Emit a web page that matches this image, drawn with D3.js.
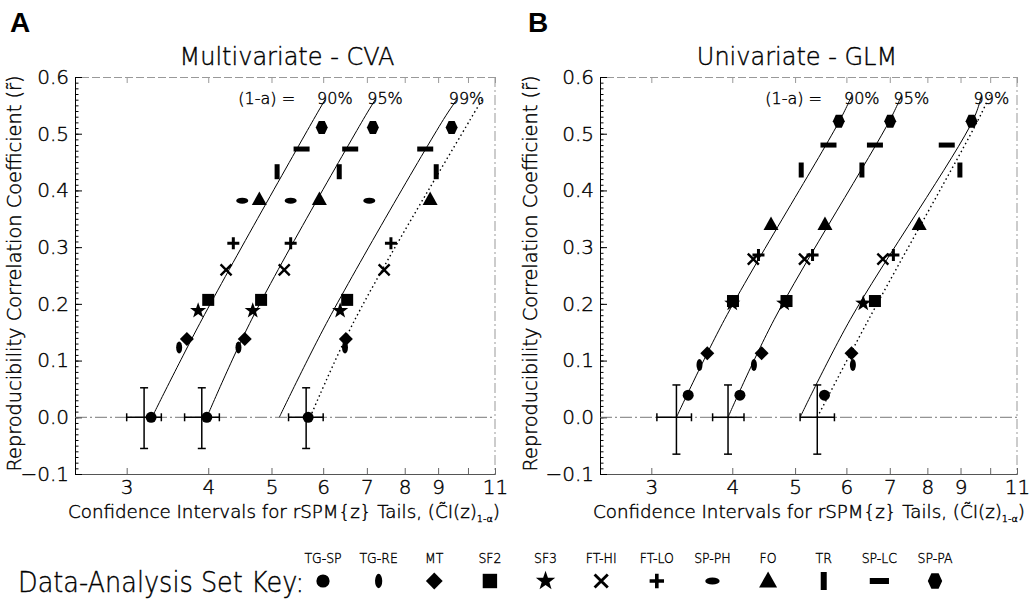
<!DOCTYPE html>
<html>
<head>
<meta charset="utf-8">
<title>Reproducibility vs CI tails</title>
<script src="https://d3js.org/d3.v7.min.js"></script>
<style>
  body { margin: 0; background: #fff; }
  svg text { font-family: "DejaVu Sans", sans-serif; font-weight: 200; fill: #000; stroke: #000; stroke-width: 0.4px; }
</style>
</head>
<body>
<div id="chart"></div>
<script>
// data-analysis sets (legend order) and their marker types
var setNames   = ["TG-SP", "TG-RE", "MT", "SF2", "SF3", "FT-HI", "FT-LO", "SP-PH", "FO", "TR", "SP-LC", "SP-PA"];
var setSymbols = ["circle", "vellipse", "diamond", "square", "star", "x", "plus", "hellipse", "triangle", "vbar", "hbar", "hexagon"];

// axis ticks
var xTickValues = [3, 4, 5, 6, 7, 8, 9, 10, 11];
var xTickLabels = ["3", "4", "5", "6", "7", "8", "9", "", "11"];
var yTickValues = [-0.1, 0.0, 0.1, 0.2, 0.3, 0.4, 0.5, 0.6];
var levelLabels = ["90%", "95%", "99%"];

// A: multivariate CVA  -- r per set, CI(z) at 90 / 95 / 99 %
var cvaR  = [0.000, 0.123, 0.138, 0.207, 0.188, 0.260, 0.307, 0.382, 0.384, 0.433, 0.473, 0.511];
var cva90 = [3.27, 3.61, 3.71, 4.00, 3.86, 4.26, 4.37, 4.51, 4.79, 5.10, 5.56, 5.97];
var cva95 = [3.98, 4.45, 4.55, 4.82, 4.68, 5.23, 5.35, 5.35, 5.92, 6.35, 6.60, 7.15];
var cva99 = [5.69, 6.48, 6.50, 6.53, 6.37, 7.44, 7.62, 7.06, 8.75, 8.94, 8.60, 9.44];

// B: univariate GLM (no SP-PH point visible)
var glmR  = [0.039, 0.092, 0.113, 0.205, 0.201, 0.279, 0.286, null, 0.340, 0.436, 0.480, 0.522];
var glm90 = [3.42, 3.56, 3.66, 4.01, 4.00, 4.31, 4.39, null, 4.59, 5.11, 5.63, 5.84];
var glm95 = [4.11, 4.32, 4.44, 4.85, 4.81, 5.17, 5.32, null, 5.56, 6.34, 6.64, 7.01];
var glm99 = [5.55, 6.14, 6.11, 6.64, 6.37, 6.83, 7.09, null, 7.77, 8.98, 8.57, 9.36];

// error crosses at r = 0
var cvaErrX  = [3.19, 3.91, 5.65];
var cvaErrLo = [3.00, 3.68, 5.31];
var cvaErrHi = [3.39, 4.16, 6.00];
var cvaErrR  = [-0.055, 0.052];
var glmErrX  = [3.28, 3.94, 5.41];
var glmErrLo = [3.06, 3.73, 5.09];
var glmErrHi = [3.46, 4.17, 5.75];
var glmErrR  = [-0.065, 0.057];

// threshold curves (r, CI)
var cvaLineR   = [0, 0.172, 0.525, 0.560];
var cvaLine90  = [3.28, 3.91, 5.80, 6.04];
var cvaLine95  = [3.98, 4.66, 6.91, 7.21];
var cvaLine99  = [5.14, 6.11, 9.17, 9.61];
var cvaLineDot = [5.73, 6.71, 10.08, 10.51];
var glmLineR   = [0, 0.172, 0.525, 0.568];
var glmLine90  = [3.28, 3.89, 5.87, 6.12];
var glmLine95  = [3.94, 4.64, 7.01, 7.30];
var glmLine99  = [5.09, 6.08, 9.42, 9.70];
var glmLineDot = [5.41, 6.49, 9.59, 9.99];

var W = 1031, H = 611;
var top_ = 77, bottom = 474;

var svg = d3.select("#chart").append("svg")
    .attr("width", W)
    .attr("height", H);

// marker shapes, drawn centred on 0,0
function drawSymbol(sel, type, cx, cy, k) {
    var g = sel.append("g")
        .attr("transform", "translate(" + cx + "," + cy + ") scale(" + k + ")")
        .attr("fill", "#000");
    if (type === "circle") g.append("circle").attr("r", 5.5);
    else if (type === "vellipse") g.append("ellipse").attr("rx", 3).attr("ry", 6);
    else if (type === "hellipse") g.append("ellipse").attr("rx", 6).attr("ry", 3);
    else if (type === "diamond") g.append("path").attr("d", "M0,-7L7,0L0,7L-7,0Z");
    else if (type === "square") g.append("rect").attr("x", -6).attr("y", -6).attr("width", 12).attr("height", 12);
    else if (type === "triangle") g.append("path").attr("d", "M0,-8L7.5,5.5L-7.5,5.5Z");
    else if (type === "vbar") g.append("rect").attr("x", -2.5).attr("y", -7.5).attr("width", 5).attr("height", 15);
    else if (type === "hbar") g.append("rect").attr("x", -8).attr("y", -2.5).attr("width", 16).attr("height", 5);
    else if (type === "hexagon") g.append("path").attr("d", "M-3,-6.5L3,-6.5L6,0L3,6.5L-3,6.5L-6,0Z");
    else if (type === "star") {
        var pts = [];
        for (var i = 0; i < 10; i++) {
            var a = -Math.PI / 2 + i * Math.PI / 5, rr = i % 2 ? 3.4 : 8.5;
            pts.push([rr * Math.cos(a), rr * Math.sin(a)]);
        }
        g.append("path").attr("d", "M" + pts.join("L") + "Z");
    }
    else if (type === "x") {
        g.append("path").attr("d", "M-5.5,-5.5L5.5,5.5M5.5,-5.5L-5.5,5.5")
            .attr("stroke", "#000").attr("stroke-width", 2.4).attr("fill", "none");
    }
    else if (type === "plus") {
        g.append("path").attr("d", "M-6,0L6,0M0,-6L0,6")
            .attr("stroke", "#000").attr("stroke-width", 3).attr("fill", "none");
    }
}

var panels = [
    { letter: "A", title: "Multivariate - CVA", left: 75, right: 495, titleX: 287, letterX: 10, yTitleX: 21,
      r: cvaR, cols: [cva90, cva95, cva99],
      errX: cvaErrX, errLo: cvaErrLo, errHi: cvaErrHi, errR: cvaErrR,
      lineR: cvaLineR, lines: [cvaLine90, cvaLine95, cvaLine99], dot: cvaLineDot },
    { letter: "B", title: "Univariate - GLM", left: 600, right: 1017, titleX: 797, letterX: 528, yTitleX: 537,
      r: glmR, cols: [glm90, glm95, glm99],
      errX: glmErrX, errLo: glmErrLo, errHi: glmErrHi, errR: glmErrR,
      lineR: glmLineR, lines: [glmLine90, glmLine95, glmLine99], dot: glmLineDot }
];

panels.forEach(function(p) {
    var x = d3.scaleLog().domain([2.5, 11]).range([p.left, p.right]);
    var y = d3.scaleLinear().domain([-0.1, 0.6]).range([bottom, top_]);
    var g = svg.append("g");

    // panel letter and title
    svg.append("text").attr("x", p.letterX).attr("y", 32)
        .style("font-family", "Liberation Sans, Arial, sans-serif")
        .style("font-weight", "bold").style("stroke", "none").attr("font-size", 28).text(p.letter);
    svg.append("text").attr("x", p.titleX).attr("y", 65)
        .attr("text-anchor", "middle").attr("font-size", 24).text(p.title);

    // faint top axis and right border
    g.append("g").attr("transform", "translate(0," + top_ + ")")
        .call(d3.axisTop(x).tickValues(xTickValues).tickSize(-6).tickFormat(""))
        .call(function(s) {
            s.select(".domain").attr("stroke", "#999").attr("stroke-dasharray", "8,3");
            s.selectAll(".tick line").attr("stroke", "#999");
        });
    g.append("line")
        .attr("x1", p.right).attr("x2", p.right).attr("y1", top_).attr("y2", bottom)
        .attr("stroke", "#999").attr("stroke-dasharray", "10,3,2,3");

    // bottom axis
    g.append("g").attr("transform", "translate(0," + bottom + ")")
        .call(d3.axisBottom(x).tickValues(xTickValues).tickSize(-6).tickPadding(6)
            .tickFormat(function(d, i) { return xTickLabels[i]; }))
        .call(function(s) {
            s.select(".domain").attr("stroke", "#555");
            s.selectAll(".tick line").attr("stroke", "#666");
            s.selectAll("text").attr("font-size", 20).attr("font-family", null);
        });

    // left axis, major + minor ticks inward
    g.append("g").attr("transform", "translate(" + p.left + ",0)")
        .call(d3.axisLeft(y).tickValues(d3.range(-10, 61).map(function(i) { return i / 100; }))
            .tickSize(-3.5).tickFormat(""))
        .call(function(s) { s.select(".domain").remove(); });
    g.append("g").attr("transform", "translate(" + p.left + ",0)")
        .call(d3.axisLeft(y).tickValues(yTickValues).tickSize(-7).tickPadding(6)
            .tickFormat(d3.format(".1f")))
        .call(function(s) {
            s.select(".domain").attr("stroke", "#000");
            s.selectAll("text").attr("font-size", 20).attr("font-family", null);
        });

    // zero reference line
    g.append("line")
        .attr("x1", p.left).attr("x2", p.right).attr("y1", y(0)).attr("y2", y(0))
        .attr("stroke", "#777").attr("stroke-dasharray", "12,3,2,3");

    // axis titles
    svg.append("text")
        .attr("transform", "translate(" + p.yTitleX + "," + ((top_ + bottom) / 2 - 2) + ") rotate(-90)")
        .attr("text-anchor", "middle").attr("font-size", 19)
        .attr("textLength", 396).attr("lengthAdjust", "spacingAndGlyphs")
        .text("Reproducibility Correlation Coefficient (r\u0303)");
    var xt = svg.append("text").attr("x", p.left - 7).attr("y", 518)
        .attr("font-size", 17).attr("textLength", 432).attr("lengthAdjust", "spacingAndGlyphs");
    xt.append("tspan").text("Confidence Intervals for rSPM{z} Tails, (C\u0303I(z)");
    xt.append("tspan").attr("font-size", 9).attr("dy", 4).text("1-\u03b1");
    xt.append("tspan").attr("dy", -4).text(")");

    // threshold curves
    var line = d3.line()
        .x(function(d) { return x(d[0]); })
        .y(function(d) { return y(d[1]); })
        .curve(d3.curveCatmullRom);
    p.lines.forEach(function(vals) {
        g.append("path").datum(d3.zip(vals, p.lineR))
            .attr("d", line).attr("fill", "none").attr("stroke", "#000").attr("stroke-width", 1);
    });
    g.append("path").datum(d3.zip(p.dot, p.lineR))
        .attr("d", line).attr("fill", "none").attr("stroke", "#000")
        .attr("stroke-width", 1.4).attr("stroke-dasharray", "1.5,3");

    // level labels
    p.lines.forEach(function(vals, j) {
        var lx = x(vals[vals.length - 1]) - 8;
        g.append("text").attr("x", lx).attr("y", 104).attr("font-size", 16).text(levelLabels[j]);
        if (j === 0) {
            g.append("text").attr("x", lx - 22).attr("y", 104).attr("text-anchor", "end")
                .attr("font-size", 16).text("(1-a) =");
        }
    });

    // error crosses
    p.errX.forEach(function(cx, j) {
        var eg = g.append("g").attr("stroke", "#000").attr("stroke-width", 1.5);
        var px = x(cx), y0 = y(p.errR[0]), y1 = y(p.errR[1]);
        eg.append("line").attr("x1", px).attr("x2", px).attr("y1", y0).attr("y2", y1);
        eg.append("line").attr("x1", px - 4).attr("x2", px + 4).attr("y1", y0).attr("y2", y0);
        eg.append("line").attr("x1", px - 4).attr("x2", px + 4).attr("y1", y1).attr("y2", y1);
        var xa = x(p.errLo[j]), xb = x(p.errHi[j]);
        eg.append("line").attr("x1", xa).attr("x2", xb).attr("y1", y(0)).attr("y2", y(0));
        eg.append("line").attr("x1", xa).attr("x2", xa).attr("y1", y(0) - 4).attr("y2", y(0) + 4);
        eg.append("line").attr("x1", xb).attr("x2", xb).attr("y1", y(0) - 4).attr("y2", y(0) + 4);
    });

    // data markers
    p.cols.forEach(function(col) {
        col.forEach(function(v, i) {
            if (v == null || p.r[i] == null) return;
            drawSymbol(g, setSymbols[i], x(v), y(p.r[i]), 1);
        });
    });
});

// legend
svg.append("text").attr("x", 18).attr("y", 592).attr("font-size", 29)
    .attr("textLength", 286).attr("lengthAdjust", "spacingAndGlyphs")
    .text("Data-Analysis Set Key:");
var lx = d3.scalePoint().domain(setNames).range([323, 935]);
setNames.forEach(function(name, i) {
    var t = svg.append("text").attr("x", lx(name)).attr("y", 563)
        .attr("text-anchor", "middle").attr("font-size", 14.5).text(name);
    t.attr("textLength", t.node().getComputedTextLength() * 0.86).attr("lengthAdjust", "spacingAndGlyphs");
    drawSymbol(svg, setSymbols[i], lx(name), 581, 1.2);
});
</script>
</body>
</html>
